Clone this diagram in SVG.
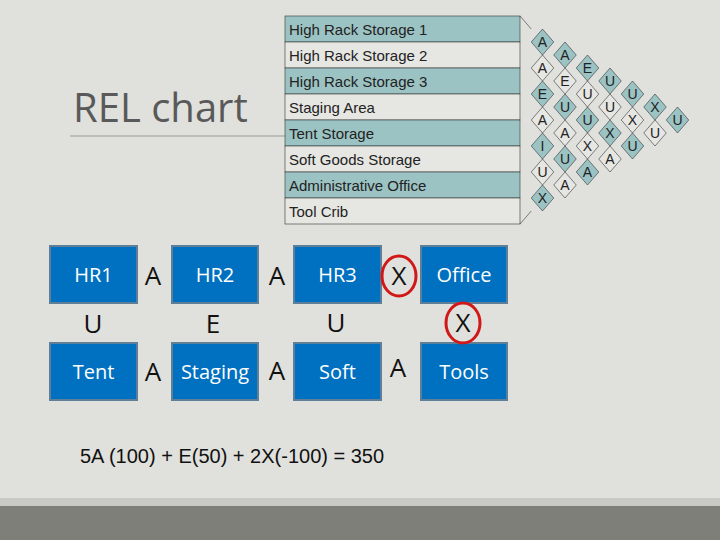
<svg xmlns="http://www.w3.org/2000/svg" width="720" height="540" viewBox="0 0 720 540">
<style>
.rl{font-family:"Liberation Sans",Arial,sans-serif;font-size:15px;fill:#222}
.cl{font-family:"Liberation Sans",Arial,sans-serif;font-size:14px;fill:#222;text-anchor:middle}
.t{fill:#9cc3c3}.l{fill:#e6e6e2}
.d{stroke:#333;stroke-width:0.6}
.box rect{fill:#0070c0;stroke:#5f7f99;stroke-width:2}
.box text,.bt{font-family:"Open Sans","Liberation Sans",sans-serif;font-size:20px;fill:#fff;text-anchor:middle}
.lt{font-family:"Open Sans","Liberation Sans",sans-serif;font-size:26px;fill:#111;text-anchor:middle}
.ring{fill:none;stroke:#d01818;stroke-width:3}
</style>
<rect width="720" height="540" fill="#e0e0dc"/>
<rect y="498" width="720" height="8" fill="#c9c9c5"/>
<rect y="506" width="720" height="34" fill="#7f7f7a"/>
<text x="73" y="122" font-family="Open Sans,Liberation Sans,sans-serif" font-size="40" fill="#595959">REL chart</text>
<line x1="70" y1="136" x2="285" y2="136" stroke="#999" stroke-width="1"/>
<g id="relchart">
<g class="d">
<rect x="285" y="16" width="235" height="26" class="t"/>
<rect x="285" y="42" width="235" height="26" class="l"/>
<rect x="285" y="68" width="235" height="26" class="t"/>
<rect x="285" y="94" width="235" height="26" class="l"/>
<rect x="285" y="120" width="235" height="26" class="t"/>
<rect x="285" y="146" width="235" height="26" class="l"/>
<rect x="285" y="172" width="235" height="26" class="t"/>
<rect x="285" y="198" width="235" height="26" class="l"/>
</g>
<text class="rl" x="289" y="35">High Rack Storage 1</text>
<text class="rl" x="289" y="61">High Rack Storage 2</text>
<text class="rl" x="289" y="87">High Rack Storage 3</text>
<text class="rl" x="289" y="113">Staging Area</text>
<text class="rl" x="289" y="139">Tent Storage</text>
<text class="rl" x="289" y="165">Soft Goods Storage</text>
<text class="rl" x="289" y="191">Administrative Office</text>
<text class="rl" x="289" y="217">Tool Crib</text>
<g class="d">
<!-- d=1 -->
<path class="t" d="M531.25 42l11.25-13 11.25 13-11.25 13z"/>
<path class="l" d="M531.25 68l11.25-13 11.25 13-11.25 13z"/>
<path class="t" d="M531.25 94l11.25-13 11.25 13-11.25 13z"/>
<path class="l" d="M531.25 120l11.25-13 11.25 13-11.25 13z"/>
<path class="t" d="M531.25 146l11.25-13 11.25 13-11.25 13z"/>
<path class="l" d="M531.25 172l11.25-13 11.25 13-11.25 13z"/>
<path class="t" d="M531.25 198l11.25-13 11.25 13-11.25 13z"/>
<!-- d=2 -->
<path class="t" d="M553.75 55l11.25-13 11.25 13-11.25 13z"/>
<path class="l" d="M553.75 81l11.25-13 11.25 13-11.25 13z"/>
<path class="t" d="M553.75 107l11.25-13 11.25 13-11.25 13z"/>
<path class="l" d="M553.75 133l11.25-13 11.25 13-11.25 13z"/>
<path class="t" d="M553.75 159l11.25-13 11.25 13-11.25 13z"/>
<path class="l" d="M553.75 185l11.25-13 11.25 13-11.25 13z"/>
<!-- d=3 -->
<path class="t" d="M576.25 68l11.25-13 11.25 13-11.25 13z"/>
<path class="l" d="M576.25 94l11.25-13 11.25 13-11.25 13z"/>
<path class="t" d="M576.25 120l11.25-13 11.25 13-11.25 13z"/>
<path class="l" d="M576.25 146l11.25-13 11.25 13-11.25 13z"/>
<path class="t" d="M576.25 172l11.25-13 11.25 13-11.25 13z"/>
<!-- d=4 -->
<path class="t" d="M598.75 81l11.25-13 11.25 13-11.25 13z"/>
<path class="l" d="M598.75 107l11.25-13 11.25 13-11.25 13z"/>
<path class="t" d="M598.75 133l11.25-13 11.25 13-11.25 13z"/>
<path class="l" d="M598.75 159l11.25-13 11.25 13-11.25 13z"/>
<!-- d=5 -->
<path class="t" d="M621.25 94l11.25-13 11.25 13-11.25 13z"/>
<path class="l" d="M621.25 120l11.25-13 11.25 13-11.25 13z"/>
<path class="t" d="M621.25 146l11.25-13 11.25 13-11.25 13z"/>
<!-- d=6 -->
<path class="t" d="M643.75 107l11.25-13 11.25 13-11.25 13z"/>
<path class="l" d="M643.75 133l11.25-13 11.25 13-11.25 13z"/>
<!-- d=7 -->
<path class="t" d="M666.25 120l11.25-13 11.25 13-11.25 13z"/>
<path fill="none" d="M520 16L531.25 29M520 224L531.25 211"/>
</g>
<g>
<text class="cl" x="542.5" y="47">A</text><text class="cl" x="542.5" y="73">A</text><text class="cl" x="542.5" y="99">E</text><text class="cl" x="542.5" y="125">A</text><text class="cl" x="542.5" y="151">I</text><text class="cl" x="542.5" y="177">U</text><text class="cl" x="542.5" y="203">X</text>
<text class="cl" x="565" y="60">A</text><text class="cl" x="565" y="86">E</text><text class="cl" x="565" y="112">U</text><text class="cl" x="565" y="138">A</text><text class="cl" x="565" y="164">U</text><text class="cl" x="565" y="190">A</text>
<text class="cl" x="587.5" y="73">E</text><text class="cl" x="587.5" y="99">U</text><text class="cl" x="587.5" y="125">U</text><text class="cl" x="587.5" y="151">X</text><text class="cl" x="587.5" y="177">A</text>
<text class="cl" x="610" y="86">U</text><text class="cl" x="610" y="112">U</text><text class="cl" x="610" y="138">X</text><text class="cl" x="610" y="164">A</text>
<text class="cl" x="632.5" y="99">U</text><text class="cl" x="632.5" y="125">X</text><text class="cl" x="632.5" y="151">U</text>
<text class="cl" x="655" y="112">X</text><text class="cl" x="655" y="138">U</text>
<text class="cl" x="677.5" y="125">U</text>
</g>
</g>
<g id="hr1" class="box"><rect x="50" y="246" width="87" height="57"/><text x="93.5" y="282">HR1</text></g>
<g id="hr2" class="box"><rect x="172" y="246" width="86" height="57"/><text x="215" y="282">HR2</text></g>
<g id="hr3" class="box"><rect x="294" y="246" width="87" height="57"/><text x="337.5" y="282">HR3</text></g>
<g id="office" class="box"><rect x="421" y="246" width="86" height="57"/><text x="464" y="282">Office</text></g>
<g id="tent" class="box"><rect x="50" y="343" width="87" height="57"/><text x="93.5" y="379">Tent</text></g>
<g id="staging" class="box"><rect x="172" y="343" width="86" height="57"/><text x="215" y="379">Staging</text></g>
<g id="soft" class="box"><rect x="294" y="343" width="87" height="57"/><text x="337.5" y="379">Soft</text></g>
<g id="tools" class="box"><rect x="421" y="343" width="86" height="57"/><text x="464" y="379">Tools</text></g>
<g id="connectors">
<text class="lt" x="153" y="285">A</text>
<text class="lt" x="277" y="285">A</text>
<text class="lt" x="399" y="285">X</text>
<ellipse class="ring" cx="399" cy="276" rx="17" ry="20"/>
<text class="lt" x="93" y="333">U</text>
<text class="lt" x="213" y="333">E</text>
<text class="lt" x="336" y="332">U</text>
<text class="lt" x="463" y="332">X</text>
<ellipse class="ring" cx="463" cy="323" rx="17" ry="20"/>
<text class="lt" x="153" y="381">A</text>
<text class="lt" x="277" y="380">A</text>
<text class="lt" x="398" y="377">A</text>
</g>
<text x="80" y="463" font-family="Liberation Sans,Arial,sans-serif" font-size="20" fill="#111">5A (100) + E(50) + 2X(-100) = 350</text>
</svg>
